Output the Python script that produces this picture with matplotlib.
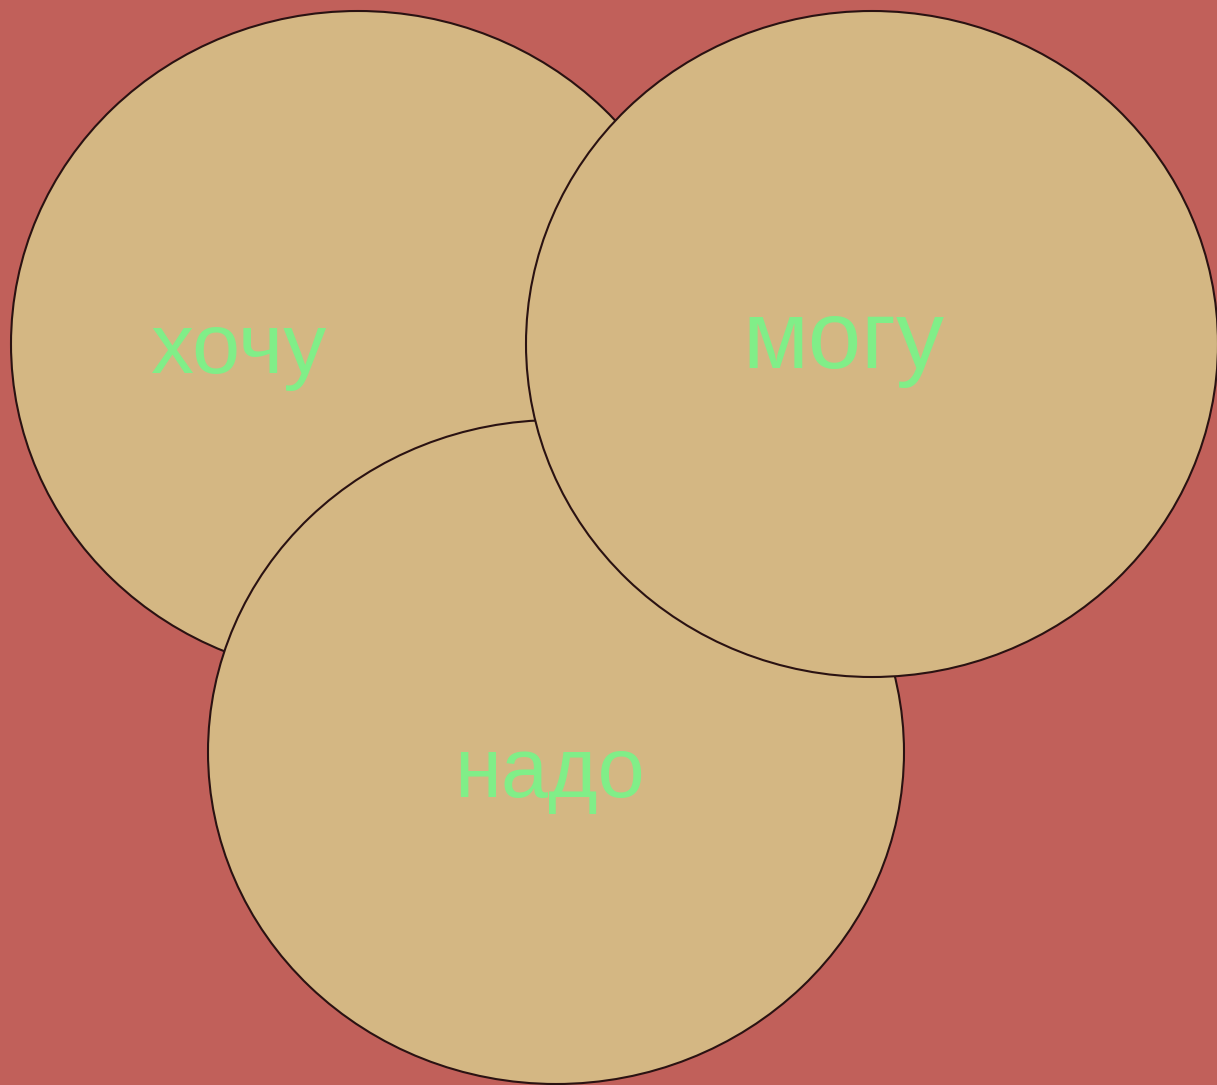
import matplotlib
matplotlib.use("Agg")
import matplotlib.pyplot as plt
from matplotlib.patches import Ellipse

labels = ["хочу", "надо", "могу"]
centers_x = [358, 556, 872]
centers_y = [344, 752, 344]
widths = [694, 696, 692]
heights = [666, 664, 666]
label_x = [238, 549, 843]
label_y = [373, 797, 368]
label_sizes = [62, 61, 69]

bg = "#C1605A"
fill = "#D4B783"
edge = "#2A1212"
green = "#80EE88"

fig = plt.figure(figsize=(12.17, 10.85), dpi=100)
fig.patch.set_facecolor(bg)
ax = fig.add_axes([0, 0, 1, 1])
ax.set_facecolor(bg)
ax.set_xlim(0, 1217)
ax.set_ylim(1085, 0)
ax.axis("off")

for cx, cy, w, h in zip(centers_x, centers_y, widths, heights):
    ax.add_patch(Ellipse((cx, cy), w, h, facecolor=fill, edgecolor=edge, linewidth=1.5))

for t, x, y, s in zip(labels, label_x, label_y, label_sizes):
    ax.text(x, y, t, ha="center", va="baseline", fontsize=s, color=green,
            family=["Liberation Sans", "DejaVu Sans"])

fig.savefig("out.png", dpi=100, facecolor=bg)
